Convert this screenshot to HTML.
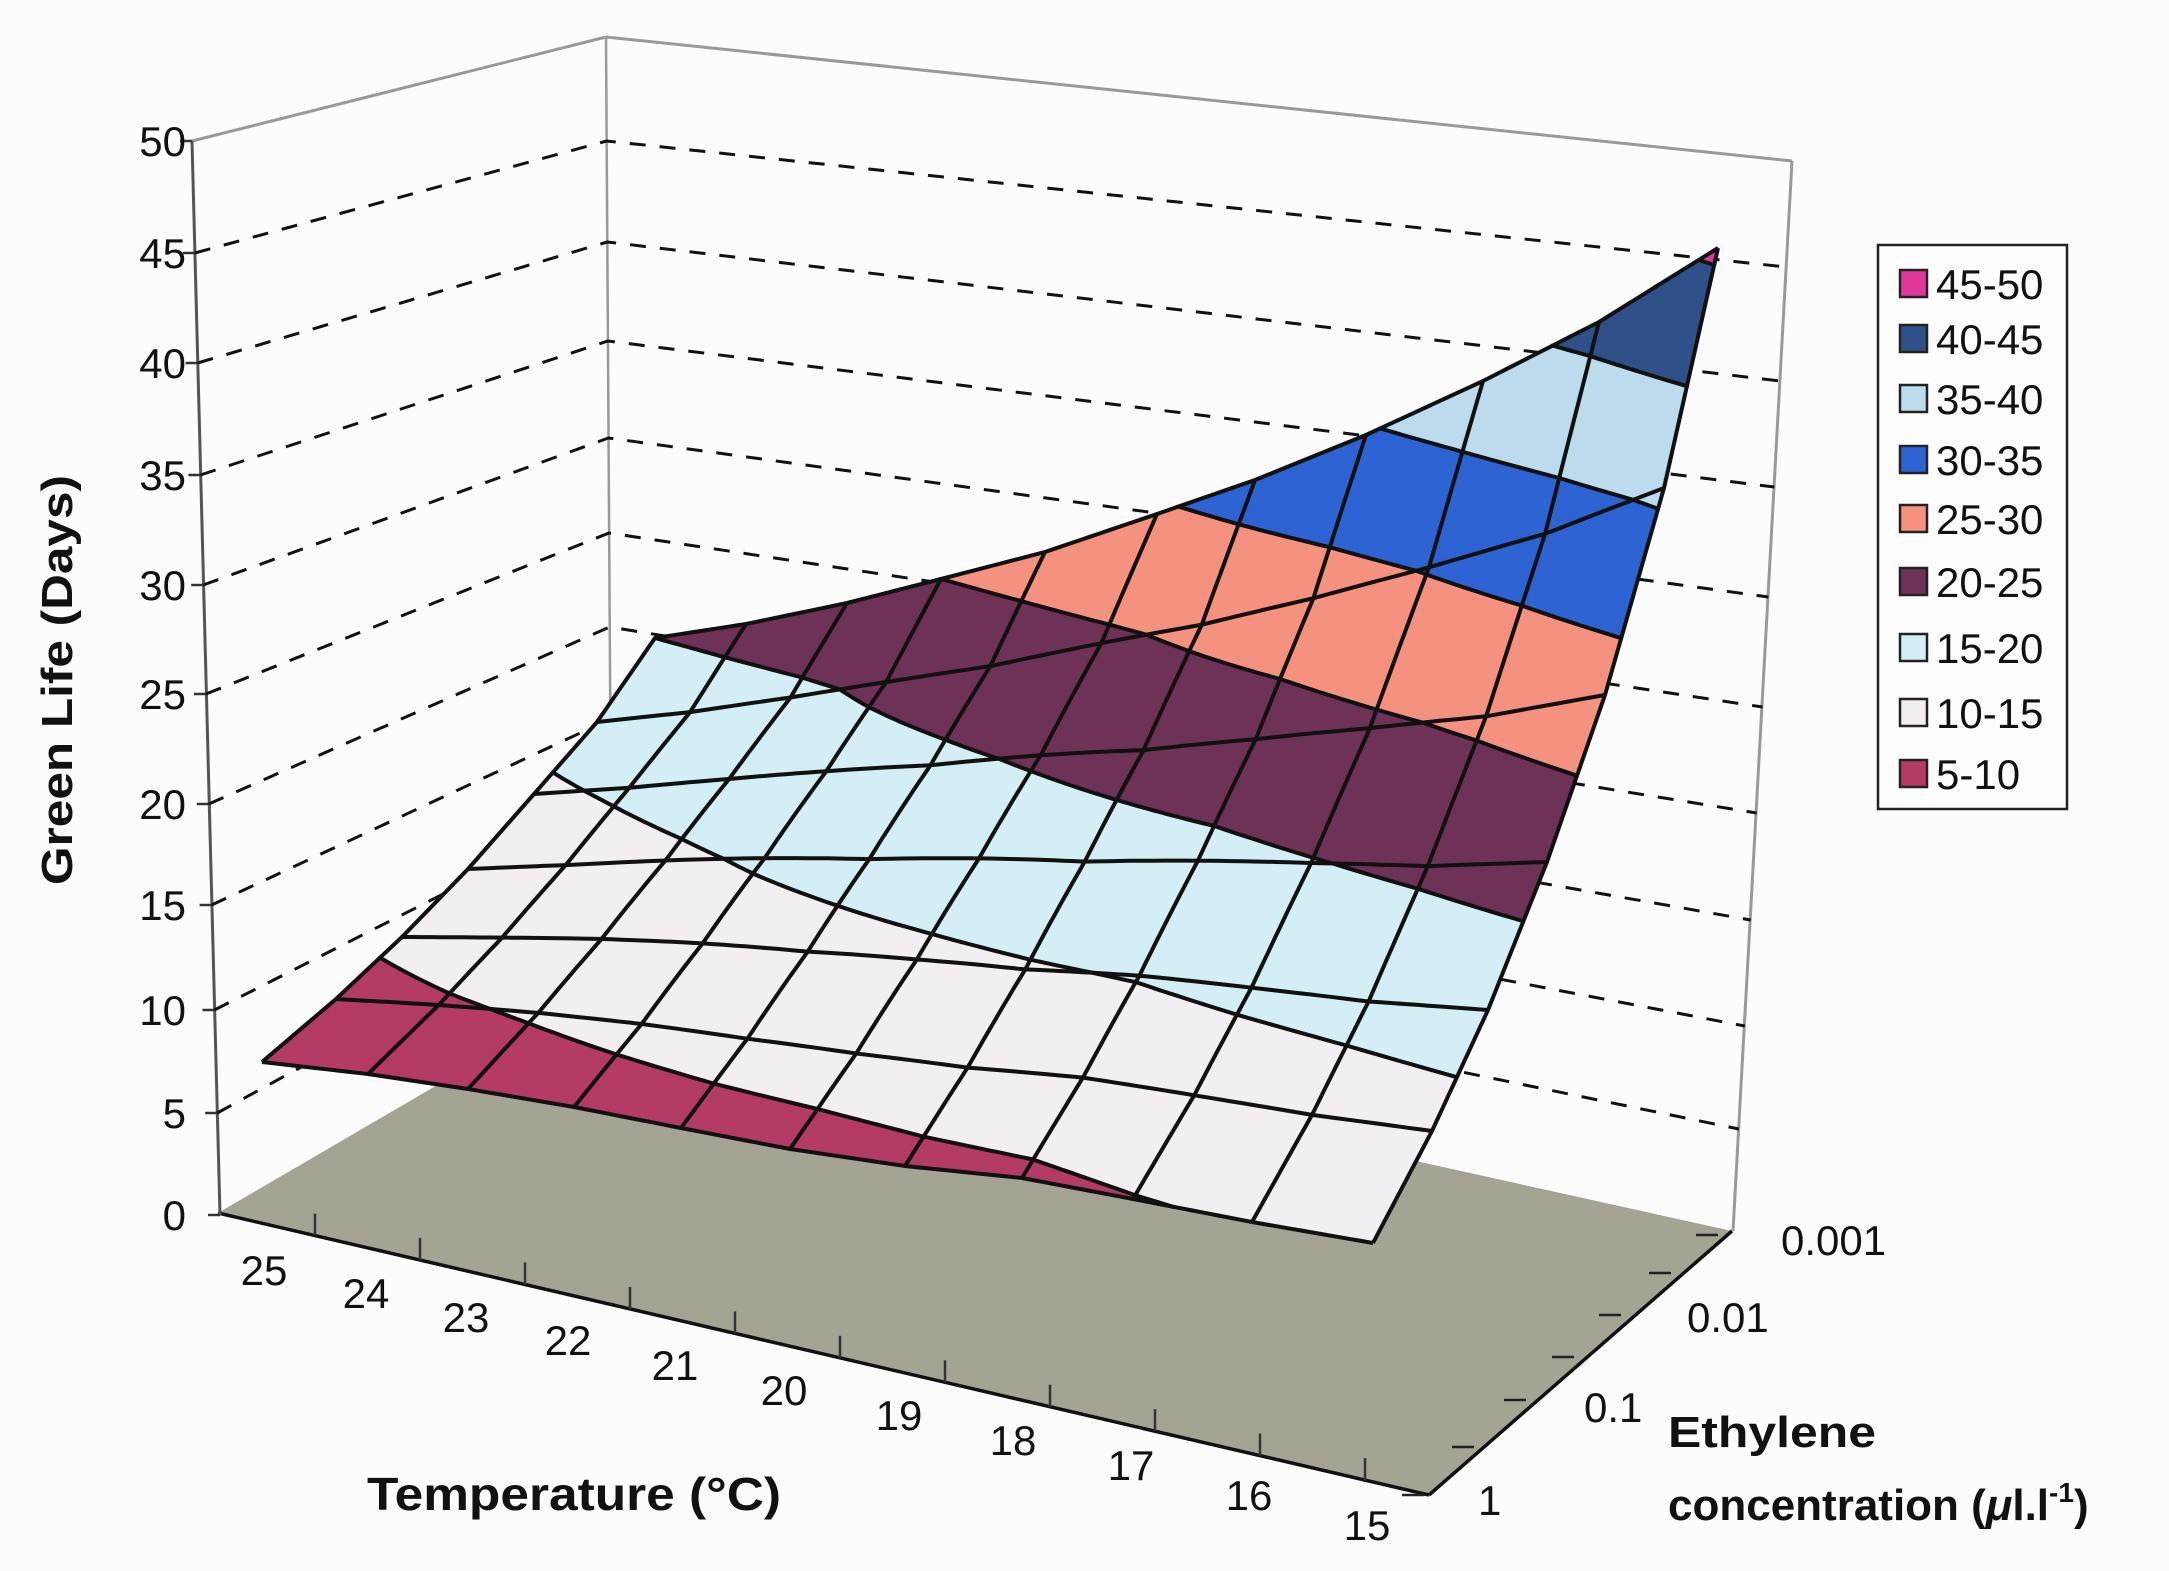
<!DOCTYPE html>
<html><head><meta charset="utf-8">
<style>
html,body{margin:0;padding:0;background:#fcfcfc;}
svg{display:block;}
text{font-family:"Liberation Sans Narrow","Liberation Sans",Arial,sans-serif;fill:#111;}
.b{font-family:"Liberation Sans",Arial,sans-serif;font-weight:bold;}
</style></head>
<body>
<svg id="s" xmlns="http://www.w3.org/2000/svg" width="2169" height="1571" viewBox="0 0 2169 1571">
<rect width="2169" height="1571" fill="#fcfcfc"/>
<g id="floor"></g>
<g id="grid"></g>
<g id="surf"></g>
<g id="lab"></g>
</svg>
<script>
(function(){
var NS="http://www.w3.org/2000/svg";
function el(p,t,a,txt){var e=document.createElementNS(NS,t);for(var k in a)e.setAttribute(k,a[k]);if(txt!==undefined)e.textContent=txt;p.appendChild(e);return e;}
var floor=document.getElementById('floor'),grid=document.getElementById('grid'),surf=document.getElementById('surf'),lab=document.getElementById('lab');

el(floor,'polygon',{points:"218,1213 1429,1495 1732,1231 612,983",fill:"#a4a394"});
el(floor,'line',{x1:218,y1:1213,x2:1429,y2:1495,stroke:"#111","stroke-width":3.5});
el(floor,'line',{x1:1429,y1:1495,x2:1732,y2:1231,stroke:"#111","stroke-width":3.5});

var Ly=[1215,1113,1010,905,804,694,585,475,363,253,141];
var By=[983,897,809,719,627,533,438,341,242,141,37];
var Ry=[1231,1129,1026,920,813,707,597,487,381,267,161];
function Lx(i){return 220-28*i/10;}
function Bx(i){return 612-6*i/10;}
function Rx(i){return 1733+59*i/10;}
el(grid,'line',{x1:Lx(10),y1:Ly[10],x2:Bx(10),y2:By[10],stroke:"#999","stroke-width":3});
el(grid,'line',{x1:Bx(10),y1:By[10],x2:Rx(10),y2:Ry[10],stroke:"#999","stroke-width":3});
el(grid,'line',{x1:Bx(10),y1:By[10],x2:Bx(0),y2:By[0],stroke:"#999","stroke-width":2.5});
el(grid,'line',{x1:Rx(10),y1:Ry[10],x2:Rx(0),y2:Ry[0],stroke:"#999","stroke-width":3});
el(grid,'line',{x1:Lx(10),y1:Ly[10],x2:Lx(0),y2:Ly[0],stroke:"#555","stroke-width":3});
for(var i=1;i<10;i++){
  el(grid,'polyline',{points:Lx(i)+","+Ly[i]+" "+Bx(i)+","+By[i]+" "+Rx(i)+","+Ry[i],fill:"none",stroke:"#111","stroke-width":3,"stroke-dasharray":"16 14"});
}
for(var i=0;i<=10;i++){
  el(grid,'line',{x1:Lx(i),y1:Ly[i],x2:Lx(i)-12,y2:Ly[i],stroke:"#333","stroke-width":2.5});
  el(lab,'text',{x:186,y:Ly[i]+15,"font-size":42,"text-anchor":"end"},String(i*5));
}

var FX=[262,368,468,574,681,790,905,1022,1133,1252,1373], FY=[1062,1074,1089,1107,1128,1149,1166,1178,1199,1222,1243];
var BX=[655,746,847,941,1045,1157,1255,1366,1483,1599,1718], BY=[638,624,603,579,552,514,480,435,381,322,248];
var LX=[262,336,402,468,534,597,655], LY=[1062,999,937,869,794,722,638];
var RX=[1373,1432,1488,1547,1605,1664,1718], RY=[1243,1131,1010,862,695,488,248];
var ZF=[7.5,8.0,8.3,8.6,8.8,8.9,9.2,9.5,9.9,10.2,10.5];
var ZB=[20,21.4,23.1,25,27,29.5,31.8,34.6,37.9,41.4,45.7];
var ZL=[7.5,9.0,10.5,12.2,14.4,16.4,20];
var ZR=[10.5,13.4,17.0,22,27.8,35.8,45.7];
function la(a,x){var n=a.length-1,f=x*n,i=Math.min(n-1,Math.floor(f)),r=f-i;return a[i]*(1-r)+a[i+1]*r;}
function coons(F,B,L,R,s,t){
  var c00=F[0],c10=F[F.length-1],c01=B[0],c11=B[B.length-1];
  return (1-t)*la(F,s)+t*la(B,s)+(1-s)*la(L,t)+s*la(R,t)-((1-s)*(1-t)*c00+s*(1-t)*c10+(1-s)*t*c01+s*t*c11);
}
var A=1.9;
function bump(s,t){return A*Math.sin(Math.PI*s)*Math.sin(Math.PI*t);}
function P(s,t){
  var x=coons(FX,BX,LX,RX,s,t), y=coons(FY,BY,LY,RY,s,t);
  y-=21.5*bump(s,t);
  return [x,y];
}
function Z(s,t){return coons(ZF,ZB,ZL,ZR,s,t)+bump(s,t);}
var cols=["#b33b66","#b33b66","#f3eef1","#d3eef5","#6e3257","#f5927f","#2d63d2","#bcdcee","#2f5088","#e0379b"];

var NSd=100,NTd=60;
var pts=[],zs=[];
for(var j=0;j<=NTd;j++){pts[j]=[];zs[j]=[];for(var i=0;i<=NSd;i++){var s=i/NSd,t=j/NTd;pts[j][i]=P(s,t);zs[j][i]=Z(s,t);}}

function clip(poly,lv,keepAbove){
  var out=[];
  for(var q=0;q<poly.length;q++){
    var a=poly[q],b=poly[(q+1)%poly.length];
    var ina=keepAbove?a[2]>=lv:a[2]<lv, inb=keepAbove?b[2]>=lv:b[2]<lv;
    if(ina)out.push(a);
    if(ina!==inb){var r=(lv-a[2])/(b[2]-a[2]);out.push([a[0]+(b[0]-a[0])*r,a[1]+(b[1]-a[1])*r,lv]);}
  }
  return out;
}
var byCol={};
function addTri(tri){
  var zmin=Math.min(tri[0][2],tri[1][2],tri[2][2]),zmax=Math.max(tri[0][2],tri[1][2],tri[2][2]);
  for(var b=1;b<=9;b++){
    var lo=(b===1)?-1e9:5*b, hi=(b===9)?1e9:5*b+5;
    if(zmax<lo||zmin>=hi)continue;
    var p=tri;
    if(b>1)p=clip(p,lo,true);
    if(p.length>2&&b<9)p=clip(p,hi,false);
    if(p.length<3)continue;
    var s="M";
    for(var q=0;q<p.length;q++){s+=(q?"L":"")+p[q][0].toFixed(1)+" "+p[q][1].toFixed(1);}
    s+="Z";
    var c=cols[b];(byCol[c]=byCol[c]||[]).push(s);
  }
}
for(var j=NTd-1;j>=0;j--){for(var i=0;i<NSd;i++){
  var a=pts[j][i].concat([zs[j][i]]),b=pts[j][i+1].concat([zs[j][i+1]]),d=pts[j+1][i+1].concat([zs[j+1][i+1]]),e=pts[j+1][i].concat([zs[j+1][i]]);
  addTri([a,b,d]);addTri([a,d,e]);
}}
for(var c in byCol){el(surf,'path',{d:byCol[c].join(""),fill:c,stroke:c,"stroke-width":1.2,"stroke-linejoin":"round"});}

var dpath="";
function ip(p1,p2,z1,z2,lv){var r=(lv-z1)/(z2-z1);return [p1[0]+(p2[0]-p1[0])*r,p1[1]+(p2[1]-p1[1])*r];}
for(var lv=10;lv<=45;lv+=5){
  for(var j=0;j<NTd;j++)for(var i=0;i<NSd;i++){
    var c=[[pts[j][i],zs[j][i]],[pts[j][i+1],zs[j][i+1]],[pts[j+1][i+1],zs[j+1][i+1]],[pts[j+1][i],zs[j+1][i]]];
    var cr=[];
    for(var q=0;q<4;q++){var u=c[q],v=c[(q+1)%4];if((u[1]<lv)!==(v[1]<lv))cr.push(ip(u[0],v[0],u[1],v[1],lv));}
    if(cr.length>=2){dpath+="M"+cr[0][0].toFixed(1)+" "+cr[0][1].toFixed(1)+"L"+cr[1][0].toFixed(1)+" "+cr[1][1].toFixed(1);}
    if(cr.length===4){dpath+="M"+cr[2][0].toFixed(1)+" "+cr[2][1].toFixed(1)+"L"+cr[3][0].toFixed(1)+" "+cr[3][1].toFixed(1);}
  }
}
el(surf,'path',{d:dpath,fill:"none",stroke:"#111","stroke-width":4,"stroke-linecap":"round"});
for(var k=0;k<=6;k++){var pp=[];for(var i=0;i<=NSd;i++){var p=P(i/NSd,k/6);pp.push(p[0].toFixed(1)+","+p[1].toFixed(1));}
  el(surf,'polyline',{points:pp.join(" "),fill:"none",stroke:"#111","stroke-width":4,"stroke-linejoin":"round"});}
for(var k=0;k<=10;k++){var pp=[];for(var j=0;j<=NTd;j++){var p=P(k/10,j/NTd);pp.push(p[0].toFixed(1)+","+p[1].toFixed(1));}
  el(surf,'polyline',{points:pp.join(" "),fill:"none",stroke:"#111","stroke-width":4,"stroke-linejoin":"round"});}

var TLx=[264,366,466,568,675,784,899,1013,1131,1249,1367], TLy=[1270,1293,1317,1340,1365,1390,1415,1440,1465,1495,1525];
for(var i=0;i<=10;i++){
  var tx=315+105*i; if(tx>1420)tx=1420; var ty=1213+(tx-218)*282/1211;
  el(floor,'line',{x1:tx,y1:ty,x2:tx,y2:ty-22,stroke:"#333","stroke-width":2.5});
  el(lab,'text',{x:TLx[i],y:TLy[i]+15,"font-size":42,"text-anchor":"middle"},String(25-i));
}
var ET=[[1424,1495],[1474,1447],[1526,1400],[1574,1357],[1621,1315],[1671,1273],[1718,1235]];
ET.forEach(function(p,i){ el(floor,'line',{x1:p[0],y1:p[1],x2:p[0]-22,y2:p[1],stroke:"#222","stroke-width":2.5});});
el(lab,'text',{x:1781,y:1255,"font-size":42},"0.001");
el(lab,'text',{x:1687,y:1332,"font-size":42},"0.01");
el(lab,'text',{x:1584,y:1422,"font-size":42},"0.1");
el(lab,'text',{x:1478,y:1515,"font-size":42},"1");
el(lab,'text',{x:1668,y:1447,"font-size":44,"class":"b",textLength:208,lengthAdjust:"spacingAndGlyphs"},"Ethylene");
var t2=el(lab,'text',{x:1668,y:1520,"font-size":44,"class":"b"});
t2.appendChild(document.createTextNode("concentration ("));
var ts=document.createElementNS(NS,'tspan');ts.setAttribute('font-style','italic');ts.textContent="\u03bc";t2.appendChild(ts);
t2.appendChild(document.createTextNode("l.l"));
var sp=document.createElementNS(NS,'tspan');sp.setAttribute('dy','-18');sp.setAttribute('font-size','28');sp.textContent="-1";t2.appendChild(sp);
var cl=document.createElementNS(NS,'tspan');cl.setAttribute('dy','18');cl.textContent=")";t2.appendChild(cl);
el(lab,'text',{x:367,y:1510,"font-size":46,"class":"b",textLength:414,lengthAdjust:"spacingAndGlyphs"},"Temperature (\u00b0C)");
el(lab,'text',{x:0,y:0,"font-size":44,"class":"b",transform:"translate(72,680) rotate(-90)","text-anchor":"middle",textLength:410,lengthAdjust:"spacingAndGlyphs"},"Green Life (Days)");

el(lab,'rect',{x:1878,y:245,width:189,height:564,fill:"#fdfdfd",stroke:"#222","stroke-width":2.5});
var lg=[["45-50","#e0379b"],["40-45","#2f5088"],["35-40","#bcdcee"],["30-35","#2d63d2"],["25-30","#f5927f"],["20-25","#6e3257"],["15-20","#d3eef5"],["10-15","#f3eef1"],["5-10","#b33b66"]];
var ly=[284,339,399,460,519,582,648,713,774];
lg.forEach(function(r,i){
  el(lab,'rect',{x:1900,y:ly[i]-14,width:27,height:27,fill:r[1],stroke:"#222","stroke-width":2.5});
  el(lab,'text',{x:1936,y:ly[i]+15,"font-size":42},r[0]);
});
})();
</script>
</body></html>
